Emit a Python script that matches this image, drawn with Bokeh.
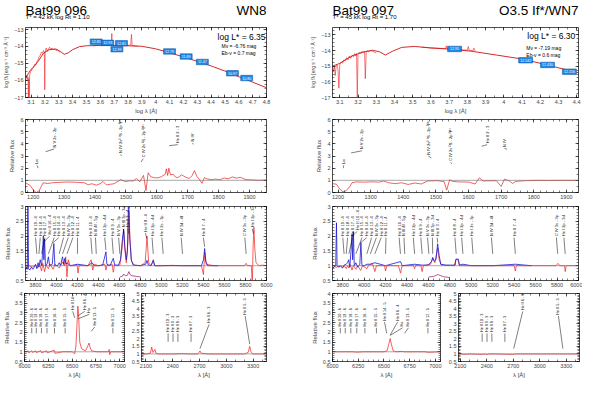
import math
import numpy as np
from bokeh.plotting import figure
from bokeh.layouts import row, column
from bokeh.models import FixedTicker, Label, LinearAxis, Range1d, Span
from bokeh.core.properties import value
from bokeh.embed import file_html
from bokeh.resources import INLINE

nan = float("nan")
FONT = "Liberation Sans"
RED = "#f21c1c"
RED_MOD = "#cc1414"
BLUE = "#1818d0"
PURPLE = "#9a1060"
BOX_FILL = "#1e86e6"
BOX_LINE = "#0b4fa0"

# ------------------------------------------------------------------ headers
star_ids = ["Bat99 096", "Bat99 097"]
spec_types = ["WN8", "O3.5 If*/WN7"]
star_params = ["T* =  42 kK   log Rt = 1.10", "T* =  45 kK   log Rt = 1.70"]
log_L = ["log L* = 6.35", "log L* = 6.30"]
abs_mag = ["Mv = -6.76 mag", "Mv = -7.19 mag"]
redden = ["Eb-v = 0.7 mag", "Eb-v = 0.6 mag"]

# ------------------------------------------------------------------ tick labels
sed_xticks_096 = [3.1, 3.2, 3.3, 3.4, 3.5, 3.6, 3.7, 3.8, 3.9, 4.0, 4.1, 4.2, 4.3, 4.4, 4.5, 4.6, 4.7, 4.8]
sed_xticks_097 = [3.1, 3.2, 3.3, 3.4, 3.5, 3.6, 3.7, 3.8, 3.9, 4.0, 4.1, 4.2, 4.3, 4.4]
sed_yticks = [-17, -16, -15, -14, -13]
uv_xticks = [1200, 1300, 1400, 1500, 1600, 1700, 1800, 1900]
uv_yticks = [0, 1, 2, 3, 4, 5, 6]
opt_xticks = [3800, 4000, 4200, 4400, 4600, 4800, 5000, 5200, 5400, 5600, 5800, 6000]
opt_yticks = [0.5, 1.0, 1.5, 2.0, 2.5, 3.0]
ha_xticks = [6000, 6250, 6500, 6750, 7000]
ha_yticks = [0.5, 1.0, 1.5, 2.0, 2.5, 3.0, 3.5, 4.0]
ir_xticks = [2100, 2400, 2700, 3000, 3300]
ir_yticks = [0.5, 1.0, 1.5, 2.0, 2.5, 3.0, 3.5, 4.0, 4.5, 5.0]

# ------------------------------------------------------------------ SED data (log lambda, log f_lambda)
sed096_model_x = [3.06, 3.08, 3.10, 3.12, 3.15, 3.19, 3.23, 3.28, 3.31, 3.34,
                  3.37, 3.40, 3.45, 3.50, 3.60, 3.70, 3.80, 3.90, 4.00, 4.10,
                  4.20, 4.30, 4.40, 4.50, 4.60, 4.70, 4.80]
sed096_model_y = [-15.90, -15.60, -15.35, -15.20, -14.90, -14.40, -14.20, -14.16, -14.30, -14.47,
                  -14.38, -14.20, -14.02, -13.97, -13.95, -13.96, -13.97, -14.00, -14.15, -14.38,
                  -14.62, -14.88, -15.15, -15.45, -15.78, -16.10, -16.43]
sed096_obs_x = [3.060, 3.066, 3.072, 3.078, 3.081, 3.084, 3.087, 3.090, 3.095, 3.102,
                3.110, 3.118, 3.126, 3.134, 3.142, 3.150, 3.158, 3.166, 3.174, 3.182,
                3.190, 3.196, 3.199, 3.202, 3.210, 3.218, 3.226, 3.234, 3.242, 3.250,
                3.260, 3.270, 3.280, 3.290, 3.300, 3.310, nan,
                3.550, 3.580, 3.610, 3.640, 3.670, 3.680, 3.683, 3.686, 3.700, 3.720,
                3.750, 3.780, 3.800, 3.820, 3.825, 3.830, 3.850, 3.870]
sed096_obs_y = [-15.85, -15.70, -15.95, -15.80, -17.10, -15.90, -17.10, -15.70, -15.50, -15.45,
                -15.30, -15.25, -15.05, -15.10, -14.90, -14.80, -14.60, -14.55, -14.35, -14.40,
                -14.25, -14.35, -16.55, -14.30, -14.10, -14.30, -14.15, -14.05, -14.20, -14.10,
                -14.20, -14.15, -14.25, -14.20, -14.30, -14.35, nan,
                -13.98, -13.94, -13.97, -13.93, -13.95, -13.90, -13.25, -13.92, -13.95, -13.92,
                -13.96, -13.93, -13.95, -13.92, -13.30, -13.96, -13.98, -14.00]
phot096_x = [3.570, 3.654, 3.753, 3.720, 4.100, 4.220, 4.337, 4.554, 4.657]
phot096_y = [-13.73, -13.80, -13.82, -14.17, -14.30, -14.60, -14.92, -15.58, -15.86]
phot096_mag = ["12.85", "12.93", "12.81", "12.99", "12.79", "11.89", "11.47", "10.97", "10.80"]

sed097_model_x = [3.06, 3.10, 3.14, 3.17, 3.23, 3.28, 3.32, 3.35, 3.39, 3.44,
                  3.51, 3.60, 3.69, 3.82, 3.96, 4.11, 4.25, 4.41]
sed097_model_y = [-15.00, -14.82, -14.53, -14.33, -14.09, -13.98, -14.09, -14.29, -14.04, -13.80,
                  -13.74, -13.84, -13.90, -14.04, -14.29, -14.56, -14.96, -15.42]
sed097_obs_x = [3.060, 3.065, 3.070, 3.075, 3.080, 3.085, 3.090, 3.095, 3.100, 3.108,
                3.115, 3.122, 3.130, 3.138, 3.145, 3.152, 3.160, 3.168, 3.175, 3.182,
                3.188, 3.192, 3.196, 3.200, 3.208, 3.215, 3.222, 3.230, 3.236, 3.240,
                3.245, 3.252, 3.260, 3.270, 3.280, 3.290, 3.300, nan,
                3.550, 3.600, 3.650, 3.680, 3.685, 3.690, 3.720, 3.760, 3.800, 3.805,
                3.810, 3.830, 3.836, 3.842]
sed097_obs_y = [-15.10, -15.35, -15.00, -15.60, -15.00, -14.90, -15.20, -16.40, -14.90, -14.75,
                -14.80, -14.60, -14.65, -14.45, -14.60, -14.35, -14.50, -14.30, -14.40, -14.20,
                -14.35, -14.20, -17.10, -14.25, -14.10, -14.20, -14.05, -14.15, -14.05, -15.80,
                -14.10, -14.00, -14.10, -14.00, -14.05, -14.10, -14.15, nan,
                -13.78, -13.83, -13.86, -13.88, -13.70, -13.90, -13.90, -13.95, -13.98, -13.75,
                -13.98, -14.02, -13.85, -14.03]
phot097_x = [3.730, 4.120, 4.240, 4.360]
phot097_y = [-13.90, -14.62, -14.92, -15.35]
phot097_mag = ["12.95", "12.542", "12.430", "12.156"]

# ------------------------------------------------------------------ UV (relative flux)
uv096_x = [1175, 1190, 1202, 1210, 1219, 1226, 1232, 1246, 1262, 1290,
           1313, 1340, 1365, 1378, 1390, 1404, 1416, 1426, 1437, 1450,
           1462, 1483, 1498, 1512, 1524, 1534, 1545, 1557, 1565, 1572,
           1580, 1592, 1603, 1615, 1627, 1631, 1635, 1639, 1644, 1653,
           1660, 1668, 1680, 1694, 1705, 1714, 1722, 1729, 1737, 1746,
           1754, 1762, 1776, 1790, 1805, 1818, 1830, 1845, 1858, 1870,
           1889, 1910, 1930, 1955]
uv096_y = [0.80, 0.58, 0.16, 0.00, 0.14, 0.50, 0.80, 0.74, 0.80, 0.84,
           0.86, 0.84, 0.80, 0.64, 0.72, 0.60, 0.72, 0.90, 0.62, 0.68,
           0.72, 1.06, 0.90, 0.96, 0.95, 1.15, 0.88, 1.40, 0.16, 1.62,
           1.30, 1.22, 1.20, 1.30, 1.50, 1.95, 1.40, 2.00, 1.45, 1.50,
           1.28, 1.22, 1.45, 1.25, 1.15, 1.38, 1.80, 1.35, 1.10, 0.75,
           1.22, 1.12, 1.05, 1.10, 1.05, 1.20, 1.12, 1.28, 1.18, 1.25,
           1.05, 1.04, 1.00, 1.03]
uv097_x = [1183, 1195, 1205, 1215, 1225, 1235, 1243, 1255, 1280, 1305,
           1325, 1340, 1355, 1375, 1395, 1415, 1435, 1455, 1475, 1505,
           1525, 1533, 1542, 1550, 1570, 1600, 1620, 1633, 1645, 1665,
           1685, 1700, 1710, 1725, 1735, 1745, 1775, 1810, 1845, 1890,
           1937]
uv097_y = [0.73, 0.68, 0.30, 0.05, 0.16, 0.45, 0.80, 0.87, 0.85, 0.88,
           0.85, 0.95, 0.80, 0.73, 0.80, 0.66, 0.78, 0.70, 0.95, 0.97,
           0.90, 0.20, 1.05, 0.92, 0.87, 0.86, 0.70, 1.20, 0.95, 0.96,
           0.97, 0.50, 1.10, 0.95, 0.74, 0.92, 0.97, 1.00, 0.99, 1.00,
           1.00]
uv_line_w = [1216, 1240, 1486, 1549, 1640, 1718]
uv_line_t = ["Lα", "N V 2s - 2p", "N IV 2s² ¹S - 2p ³P°", "C IV 2s ²S - 2p ²P°", "He II 2 - 3", "N IV"]

# ------------------------------------------------------------------ optical (relative flux)
opt096_mod_x = [3705, 3740, 3770, 3800, 3820, 3840, 3858, 3870, 3887, 3900,
                3923, 3940, 3968, 3985, 4010, 4026, 4040, 4058, 4075, 4088,
                4100, 4112, 4130, 4180, 4195, 4205, 4215, 4300, 4330, 4345,
                4360, 4400, 4460, 4471, 4480, 4530, 4541, 4552, 4580, 4604,
                4625, 4640, 4652, 4665, 4680, 4690, 4700, 4715, 4740, 4800,
                4845, 4862, 4878, 4900, 4922, 4935, 5000, 5200, 5380, 5400,
                5412, 5425, 5500, 5790, 5805, 5820, 5855, 5865, 5872, 5880,
                5888, 5900, 5930, 5960, 6000]
opt096_mod_y = [0.98, 1.00, 0.95, 1.02, 0.93, 1.04, 0.82, 1.08, 0.80, 1.02,
                0.90, 1.05, 0.88, 1.05, 0.98, 0.92, 1.02, 1.12, 1.00, 1.30,
                0.62, 1.20, 1.00, 1.00, 1.05, 0.75, 1.00, 1.00, 1.20, 0.85,
                1.05, 1.00, 1.05, 0.85, 1.00, 1.05, 0.78, 1.02, 1.00, 1.02,
                1.60, 2.18, 1.50, 1.10, 1.80, 2.85, 1.90, 1.15, 1.02, 1.00,
                1.10, 2.00, 1.10, 1.00, 1.15, 1.00, 1.00, 1.00, 1.00, 0.70,
                1.45, 1.05, 1.00, 1.00, 1.08, 1.00, 1.00, 0.35, 1.60, 2.30,
                1.60, 1.10, 1.00, 1.02, 1.00]
opt096_obs_x = [3705, 3715, 3722, 3728, 3734, 3745, 3760, 3775, 3790, 3800,
                3813, 3825, 3833, 3845, 3858, 3866, 3875, 3880, 3887, 3895,
                3910, 3923, 3935, 3960, 3975, 3985, 4010, 4026, 4040, 4050,
                4058, 4068, 4080, 4090, 4100, 4130, 4200, 4300, 4340, 4360,
                4400, 4440, 4471, 4480, 4510, 4541, 4555, 4590, 4610, 4628,
                4640, 4652, 4665, 4676, 4686, 4698, 4712, 4730, 4800, 4850,
                4862, 4875, 4900, 4922, 4935, 5000, 5100, 5200, 5300, 5380,
                5400, 5411, 5422, 5440, 5500, 5540]
opt096_obs_y = [0.85, 0.95, 0.88, 3.20, 0.90, 0.85, 0.95, 0.88, 0.96, 1.05,
                0.90, 1.10, 0.95, 1.20, 1.00, 1.35, 2.00, 1.20, 1.90, 1.00,
                1.05, 1.30, 1.00, 1.05, 1.75, 1.00, 1.00, 1.10, 1.00, 1.20,
                1.30, 1.05, 1.25, 1.05, 1.10, 1.00, 1.05, 1.00, 1.10, 1.00,
                1.00, 1.02, 1.47, 1.05, 1.00, 1.25, 1.02, 1.02, 1.20, 1.90,
                2.24, 1.60, 1.20, 1.50, 3.30, 1.90, 1.20, 1.02, 1.00, 1.05,
                1.18, 1.02, 1.00, 1.20, 1.00, 1.00, 1.01, 1.00, 1.00, 1.00,
                1.20, 1.58, 1.15, 1.00, 1.00, 1.00]
opt096_res_x = [4605, 4630, 4640, 4655, 4675, 4690, 4700, 4720, 4760, 4800]
opt096_res_y = [0.62, 0.65, 0.72, 0.66, 0.68, 0.80, 0.70, 0.66, 0.64, 0.62]

opt097_mod_x = [3705, 3740, 3780, 3800, 3813, 3833, 3845, 3858, 3870, 3887,
                3900, 3923, 3940, 3968, 3985, 4026, 4040, 4058, 4080, 4100,
                4115, 4190, 4200, 4212, 4320, 4340, 4355, 4460, 4471, 4480,
                4530, 4541, 4552, 4620, 4640, 4660, 4686, 4700, 4720, 4840,
                4855, 4862, 4875, 4890, 5000, 5400, 5411, 5420, 5790, 5808,
                5825, 5870, 5876, 5885, 6000]
opt097_mod_y = [1.00, 0.95, 1.00, 0.95, 1.00, 0.90, 1.00, 0.92, 1.05, 0.85,
                1.00, 0.88, 1.00, 0.84, 1.00, 0.90, 1.00, 1.05, 1.05, 0.80,
                1.00, 1.00, 0.82, 1.00, 1.00, 0.75, 1.00, 1.00, 0.90, 1.00,
                1.00, 0.80, 1.00, 1.05, 1.25, 1.10, 1.60, 1.20, 1.02, 1.00,
                1.20, 1.22, 1.20, 1.00, 1.00, 1.00, 0.82, 1.00, 1.00, 1.08,
                1.00, 1.00, 0.80, 1.00, 1.00]
opt097_obs_x = [3705, 3720, 3735, 3742, 3748, 3760, 3780, 3800, 3813, 3833,
                3845, 3856, 3866, 3878, 3887, 3893, 3900, 3908, 3923, 3940,
                3960, 3970, 3980, 4000, 4026, 4058, 4100, 4200, 4340, 4355,
                4471, 4541, 4600, 4630, 4640, 4655, 4670, 4686, 4700, 4715,
                4760, 4850, 4856, 4880, 4888, 4922, 5000, 5200, 5411, 5560]
opt097_obs_y = [0.92, 0.95, 1.00, 2.45, 1.00, 0.95, 0.98, 0.92, 1.02, 1.05,
                1.10, 1.20, 0.95, 1.50, 2.06, 1.20, 2.15, 1.00, 1.10, 0.95,
                1.05, 1.78, 1.00, 1.00, 1.05, 1.05, 1.10, 1.00, 1.14, 1.00,
                1.05, 1.02, 1.02, 1.15, 1.28, 1.15, 1.20, 1.74, 1.35, 1.05,
                1.02, 1.02, 1.22, 1.22, 1.02, 1.05, 1.00, 1.00, 1.05, 1.00]
opt097_res_x = [4605, 4650, 4686, 4710, 4740, 4800]
opt097_res_y = [0.62, 0.64, 0.70, 0.67, 0.63, 0.60]

opt_line_w = [3813, 3833, 3858, 3887, 3923, 3968, 4026, 4058, 4100, 4200, 4339, 4379,
              4471, 4541, 4604, 4640, 4686, 4859, 4922, 5016, 5200, 5411, 5806, 5876]
opt_line_t = ["He II 19 - 4", "He II 18 - 4", "He II 17 - 4", "He II 16 - 4", "He II 15 - 4",
              "He II 14 - 4", "He II 13 - 4", "N IV 3s - 3p", "He II 12 - 4", "He II 11 - 4",
              "He II 10 - 4", "N III 4f - 5g", "He I 2p - 4d", "He II 9 - 4", "N V 3s - 3p",
              "N III 3p - 3d", "He II 3 - 4", "He II 8 - 4", "He I 2p - 4d", "He I 2s - 3p",
              "N IV 3d - 4f", "He II 7 - 4", "C IV 3s - 3p", "He I 2p - 3d"]

# ------------------------------------------------------------------ H-alpha region
ha096_x = [6000, 6020, 6037, 6045, 6074, 6085, 6118, 6125, 6171, 6180,
           6233, 6240, 6311, 6320, 6400, 6500, 6527, 6540, 6552, 6560,
           6568, 6580, 6600, 6640, 6665, 6678, 6690, 6705, 6760, 6880,
           6890, 6895, 6905, 7050]
ha096_y = [1.00, 1.00, 1.05, 0.95, 1.05, 0.97, 1.05, 0.96, 1.06, 0.95,
           1.05, 0.95, 1.08, 0.92, 1.00, 1.00, 0.90, 1.30, 2.50, 3.35,
           2.90, 1.50, 1.15, 1.05, 1.30, 1.45, 1.20, 1.05, 1.00, 1.00,
           1.12, 0.85, 1.00, 1.00]
ha097_x = [6000, 6100, 6200, 6233, 6300, 6500, 6530, 6548, 6560, 6572,
           6590, 6620, 6680, 6700, 6900, 6930, 7050]
ha097_y = [1.00, 1.00, 1.00, 0.98, 1.00, 1.00, 1.05, 1.40, 1.68, 1.40,
           1.05, 1.00, 1.02, 1.00, 1.00, 0.97, 1.00]
ha_line_w = [6076, 6124, 6178, 6236, 6315, 6427, 6527, 6560, 6563, 6700, 6928]
ha_line_t = ["He II 20 - 6", "He II 19 - 6", "He II 18 - 6", "He II 17 - 6", "He II 16 - 6",
             "He II 15 - 5", "He II 14 - 5", "He II 6 - 4", "Hα", "He II 13 - 5", "He II 12 - 5"]

# ------------------------------------------------------------------ near-UV region 2000-3400 A
ir096_x = [2050, 2100, 2150, 2164, 2178, 2190, 2200, 2212, 2240, 2348,
           2400, 2500, 2600, 2680, 2695, 2705, 2718, 2800, 3000, 3200,
           3245, 3262, 3278, 3300, 3450]
ir096_y = [1.00, 1.00, 1.05, 1.46, 1.10, 1.20, 1.30, 1.05, 1.00, 1.00,
           1.00, 1.02, 1.00, 1.00, 1.10, 1.20, 1.05, 1.00, 1.00, 1.00,
           1.10, 1.50, 1.10, 1.00, 1.00]
ir097_x = [2080, 2166, 2200, 2300, 2348, 2380, 2400, 2420, 2500, 2700,
           2720, 3000, 3450]
ir097_y = [1.00, 0.98, 1.00, 0.98, 0.97, 1.00, 0.96, 1.00, 1.00, 0.97,
           1.00, 1.00, 1.00]
ir_line_w = [2348, 2403, 2458, 2605, 2705, 3262]
ir_line_t = ["He II 10 - 3", "He II 9 - 3", "He II 8 - 3", "He II 7 - 3", "He II 6 - 3", "He II 5 - 3"]

# ================================================================== layout helpers
W_COL = 291
H_HEAD = 27
H_SED, H_UV, H_OPT, H_BOT = (89, 0, 17), (85, 3, 8), (89, 5, 10), (90, 3, 17)


def minor(lo, hi, step):
    return [round(float(v), 4) for v in np.arange(lo, hi + step / 2.0, step)]


def style_axis(ax, ticks, minors, show=True):
    ax.ticker = FixedTicker(ticks=ticks, minor_ticks=minors)
    ax.axis_line_color = None
    ax.major_tick_in = 3
    ax.major_tick_out = 0
    ax.minor_tick_in = 2
    ax.minor_tick_out = 0
    ax.major_tick_line_width = 0.6
    ax.minor_tick_line_width = 0.5
    ax.major_tick_line_color = "black"
    ax.minor_tick_line_color = "black"
    ax.major_label_standoff = 2 if show else 0
    ax.major_label_text_font = FONT
    ax.major_label_text_font_size = "5.5px" if show else "0px"
    if not show:
        ax.major_label_text_color = None
    ax.axis_label_text_font = FONT
    ax.axis_label_text_font_size = "6px"
    ax.axis_label_text_font_style = "normal"
    ax.axis_label_standoff = 2


def base_fig(w, hgeom, bl, br, xr, yr, xt, yt, xminor, yminor, xlabel=None, ylabel=None, ylab_size="6px"):
    h, bt, bb = hgeom
    p = figure(width=w, height=h, x_range=Range1d(*xr), y_range=Range1d(*yr),
               output_backend="svg", toolbar_location=None, title=None,
               min_border_left=bl, min_border_right=br, min_border_top=bt, min_border_bottom=bb)
    p.xgrid.visible = False
    p.ygrid.visible = False
    p.outline_line_color = "black"
    p.outline_line_width = 0.7
    p.background_fill_color = "white"
    p.border_fill_color = "white"
    style_axis(p.xaxis[0], xt, xminor)
    style_axis(p.yaxis[0], yt, yminor)
    if xlabel:
        p.xaxis[0].axis_label = xlabel
        p.xaxis[0].axis_label_standoff = 1
    if ylabel:
        p.yaxis[0].axis_label = ylabel
        p.yaxis[0].axis_label_text_font_size = ylab_size
    top = LinearAxis()
    style_axis(top, xt, xminor, False)
    p.add_layout(top, "above")
    right = LinearAxis()
    style_axis(right, yt, yminor, False)
    p.add_layout(right, "right")
    return p


def frame_size(w, hgeom, bl, br):
    h, bt, bb = hgeom
    return w - bl - br, h - bt - bb


def add_label(p, text, x, y, size, align="left"):
    p.add_layout(Label(x=x, y=y, x_units="screen", y_units="screen", text=text,
                       text_font=FONT, text_font_size=f"{size}px", text_align=align,
                       text_baseline="alphabetic", text_color="black"))


def spread(ws, sep, shift=0.0):
    out = []
    for w in ws:
        x = w + shift
        if out and x < out[-1] + sep:
            x = out[-1] + sep
        out.append(x)
    return out


def local_max(xs, ys, w, half):
    vals = [y for x, y in zip(xs, ys) if abs(x - w) <= half and y == y]
    return max(vals) if vals else 1.0


def line_ids(p, lw, lx, base, lead0, texts, fs, yspan):
    gap = 0.02 * yspan
    p.segment(x0=lw, y0=lead0, x1=lx, y1=[b - gap for b in base], line_color="black", line_width=0.5)
    p.text(x=lx, y=base, text=texts, angle=math.pi / 2, text_font=value(FONT),
           text_font_size=f"{fs}px", text_align="left", text_baseline="middle", text_color="black")


def auto_ids(p, spectra, lw, texts, xr, fw, sep_px, shift, dflt, cap, lo, fs, yr, half):
    per_px = (xr[1] - xr[0]) / fw
    lx = spread(lw, sep_px * per_px, shift)
    base, lead0 = [], []
    for w in lw:
        pk = max(local_max(sx, sy, w, half) for sx, sy in spectra)
        b = min(cap, max(dflt, pk + 0.15))
        base.append(b)
        lead0.append(min(b - 0.22, max(lo, pk + 0.06)))
    line_ids(p, lw, lx, base, lead0, texts, fs, yr[1] - yr[0])


# ================================================================== panels
def header_fig(k, bl, br):
    p = figure(width=W_COL, height=H_HEAD, x_range=Range1d(0, 1), y_range=Range1d(0, H_HEAD),
               output_backend="svg", toolbar_location=None, title=None,
               x_axis_location=None, y_axis_location=None,
               min_border_left=bl, min_border_right=br, min_border_top=0, min_border_bottom=0)
    p.grid.visible = False
    p.outline_line_color = None
    p.background_fill_color = "white"
    p.border_fill_color = "white"
    p.text(x=[0, 1], y=[H_HEAD - 10, H_HEAD - 10], text=[star_ids[k], spec_types[k]],
           text_align=["left", "right"], text_font=value(FONT), text_font_size="13.5px",
           text_baseline="alphabetic", text_color="black")
    p.text(x=[0], y=[H_HEAD - 16.3], text=[star_params[k]], text_align="left", text_font=value(FONT),
           text_font_size="6px", text_baseline="alphabetic", text_color="black")
    return p


def sed_panel(k, bl, br, xr, yr, xt, mx, my, ox, oy, phx, phy, pht, box_w, pos):
    p = base_fig(W_COL, H_SED, bl, br, xr, yr, xt, sed_yticks, minor(3.05, 4.8, 0.05),
                 minor(-17, -12.5, 0.25), "log λ [Å]", "log fλ [erg s⁻¹ cm⁻² Å⁻¹]", "5px")
    p.line(ox, oy, line_color=RED, line_width=0.6)
    p.line(mx, my, line_color=RED_MOD, line_width=0.9)
    p.rect(x=phx, y=phy, width=box_w, height=5.5, width_units="screen", height_units="screen",
           fill_color=BOX_FILL, line_color=BOX_LINE, line_width=0.5)
    p.text(x=phx, y=phy, text=pht, text_font=value(FONT), text_font_size="3.6px",
           text_align="center", text_baseline="middle", text_color="white")
    add_label(p, log_L[k], pos[0], pos[1], 8.5, "right")
    add_label(p, abs_mag[k], pos[2], pos[3], 5)
    add_label(p, redden[k], pos[2], pos[3] - 7, 5)
    return p


def uv_panel(bl, br, xr, x, y, lab_x, lead0, lab_y):
    yr = (0, 6)
    p = base_fig(W_COL, H_UV, bl, br, xr, yr, uv_xticks, uv_yticks, minor(1180, 1950, 20),
                 minor(0, 6, 0.5), None, "Relative flux")
    p.add_layout(Span(location=1, dimension="width", line_color="#707070", line_width=0.6))
    p.line(x, y, line_color=RED, line_width=0.7)
    line_ids(p, uv_line_w, lab_x, lab_y, lead0, uv_line_t, 4, 6)
    return p


def opt_panel(bl, br, mx, my, ox, oy, rx, ry):
    xr, yr = (3705, 6000), (0.5, 3.0)
    p = base_fig(W_COL, H_OPT, bl, br, xr, yr, opt_xticks, opt_yticks, minor(3700, 6000, 50),
                 minor(0.5, 3.0, 0.1), None, "Relative flux")
    p.add_layout(Span(location=1, dimension="width", line_color="#707070", line_width=0.6))
    p.line(mx, my, line_color=RED, line_width=0.7)
    p.line(ox, oy, line_color=BLUE, line_width=0.8)
    p.line(rx, ry, line_color=PURPLE, line_width=0.7)
    fw, _ = frame_size(W_COL, H_OPT, bl, br)
    auto_ids(p, [(mx, my), (ox, oy)], opt_line_w, opt_line_t, xr, fw, 4.8, -12, 2.0, 2.3, 1.4,
             4.0, yr, 10)
    return p


def ha_panel(w, bl, br, x, y, ylabel, lab_x, base, lead0):
    xr, yr = (6000, 7050), (0.5, 4.0)
    p = base_fig(w, H_BOT, bl, br, xr, yr, ha_xticks, ha_yticks, minor(6000, 7050, 50),
                 minor(0.5, 4.0, 0.1), "λ [Å]", ylabel)
    p.add_layout(Span(location=1, dimension="width", line_color="#707070", line_width=0.6))
    p.line(x, y, line_color=RED, line_width=0.7)
    line_ids(p, ha_line_w, lab_x, base, lead0, ha_line_t, 3.7, 3.5)
    return p


def ir_panel(w, bl, br, xr, x, y, lab_x, lab_y, lead0):
    yr = (0.5, 5.0)
    p = base_fig(w, H_BOT, bl, br, xr, yr, ir_xticks, ir_yticks, minor(2000, 3450, 100),
                 minor(0.5, 5.0, 0.1), "λ [Å]", None)
    p.add_layout(Span(location=1, dimension="width", line_color="#707070", line_width=0.6))
    p.line(x, y, line_color=RED, line_width=0.7)
    line_ids(p, ir_line_w, lab_x, lab_y, lead0, ir_line_t, 3.7, 4.5)
    return p


HA_LAB_X = [6076, 6124, 6178, 6236, 6315, 6427, 6506, 6633, 6680, 6738, 6928]
HA_BASE = [2.3, 2.3, 2.3, 2.3, 2.3, 2.3, 3.15, 3.15, 3.0, 2.35, 2.3]
HA_LEAD = [1.95, 1.95, 1.95, 1.95, 1.95, 1.95, 2.75, 2.85, 2.7, 2.05, 1.95]
IR_LAB_X = [2348, 2403, 2458, 2605, 2807, 3211]

# ---------------------------------------------------------------- left column (Bat99 096)
L_BL, L_BR = 18, 25
headL = header_fig(0, L_BL, L_BR)
sedL = sed_panel(0, L_BL, L_BR, (3.06, 4.80), (-17.0, -12.9), sed_xticks_096,
                 sed096_model_x, sed096_model_y, sed096_obs_x, sed096_obs_y,
                 phot096_x, phot096_y, phot096_mag, 12, (240, 60.8, 196, 51.8))
uvL = uv_panel(L_BL, L_BR, (1175, 1955), uv096_x, uv096_y,
               [1212, 1268, 1483, 1556, 1668, 1716], [2.0, 3.35, 3.0, 2.5, 3.85, 3.95],
               [2.35, 3.7, 3.25, 2.9, 4.05, 4.2])
optL = opt_panel(L_BL, L_BR, opt096_mod_x, opt096_mod_y, opt096_obs_x, opt096_obs_y,
                 opt096_res_x, opt096_res_y)
haL = ha_panel(128, 18, 4, ha096_x, ha096_y, "Relative flux", HA_LAB_X, HA_BASE, HA_LEAD)
irL = ir_panel(163, 12, 25, (2050, 3450), ir096_x, ir096_y, IR_LAB_X,
               [2.45, 2.45, 2.45, 2.45, 3.05, 3.6], [1.8, 1.8, 1.8, 1.8, 1.35, 1.65])
colL = column(headL, sedL, uvL, optL, row(haL, irL))

# ---------------------------------------------------------------- right column (Bat99 097)
R_BL, R_BR = 41, 4
headR = header_fig(1, R_BL, R_BR)
sedR = sed_panel(1, R_BL, R_BR, (3.06, 4.41), (-17.0, -12.53), sed_xticks_097,
                 sed097_model_x, sed097_model_y, sed097_obs_x, sed097_obs_y,
                 phot097_x, phot097_y, phot097_mag, 14, (242.8, 61.4, 193.8, 49.8))
uvR = uv_panel(R_BL, R_BR, (1183, 1937), uv097_x, uv097_y,
               [1217, 1273, 1477, 1545, 1657, 1710], [2.0, 3.25, 2.85, 2.35, 3.8, 3.55],
               [2.35, 3.55, 3.1, 2.6, 4.05, 3.75])
optR = opt_panel(R_BL, R_BR, opt097_mod_x, opt097_mod_y, opt097_obs_x, opt097_obs_y,
                 opt097_res_x, opt097_res_y)
haR = ha_panel(153, 41, 4, ha097_x, ha097_y, "Relative flux", HA_LAB_X,
               [2.3, 2.3, 2.3, 2.3, 2.3, 2.3, 2.6, 2.6, 2.3, 2.3, 2.3],
               [1.95, 1.95, 1.95, 1.95, 1.95, 1.95, 1.95, 1.85, 1.85, 1.95, 1.95])
irR = ir_panel(138, 14, 3, (2080, 3450), ir097_x, ir097_y, IR_LAB_X,
               [2.45, 2.45, 2.45, 2.45, 3.9, 3.6], [1.8, 1.8, 1.8, 1.8, 1.35, 1.35])
colR = column(headR, sedR, uvR, optR, row(haR, irR))

layout = row(colL, colR)
open("out.html", "w").write(file_html(layout, INLINE))
